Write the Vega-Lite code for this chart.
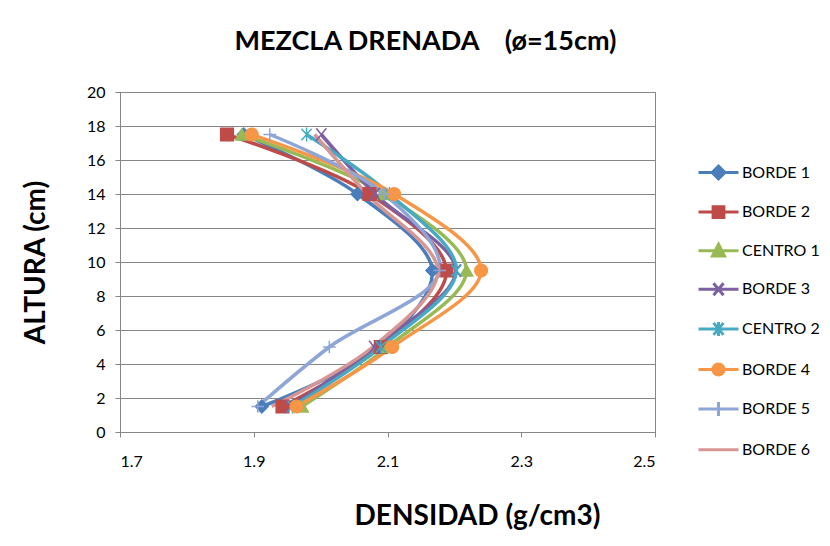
{
  "$schema": "https://vega.github.io/schema/vega-lite/v6.json",
  "width": 535,
  "height": 340,
  "autosize": {"type": "none"},
  "padding": {"left": 120, "top": 92, "right": 175, "bottom": 114},
  "background": "white",
  "title": {"text": "MEZCLA DRENADA\u00a0\u00a0\u00a0 (ø=15cm)", "font": "Lato", "fontSize": 27, "fontWeight": "bold", "color": "#000000", "anchor": "middle", "dx": 38, "offset": 28},
  "config": {
    "view": {"stroke": "#868686", "strokeWidth": 1},
    "axis": {"labelFont": "Lato", "labelFontSize": 16, "labelColor": "#000000", "titleFont": "Lato", "titleFontSize": 28, "titleFontWeight": "bold", "titleColor": "#000000", "domainColor": "#868686", "tickColor": "#868686", "gridColor": "#868686", "labelOverlap": false},
    "legend": {"labelFont": "Lato", "labelFontSize": 16, "labelColor": "#000000"}
  },
  "data": {"values": [
    {"series": "BORDE 1", "dens": 1.912, "alt": 1.5}, {"series": "BORDE 1", "dens": 2.088, "alt": 5}, {"series": "BORDE 1", "dens": 2.167, "alt": 9.5}, {"series": "BORDE 1", "dens": 2.055, "alt": 14}, {"series": "BORDE 1", "dens": 1.885, "alt": 17.5},
    {"series": "BORDE 2", "dens": 1.943, "alt": 1.5}, {"series": "BORDE 2", "dens": 2.09, "alt": 5}, {"series": "BORDE 2", "dens": 2.188, "alt": 9.5}, {"series": "BORDE 2", "dens": 2.073, "alt": 14}, {"series": "BORDE 2", "dens": 1.86, "alt": 17.5},
    {"series": "CENTRO 1", "dens": 1.972, "alt": 1.5}, {"series": "CENTRO 1", "dens": 2.1, "alt": 5}, {"series": "CENTRO 1", "dens": 2.218, "alt": 9.5}, {"series": "CENTRO 1", "dens": 2.095, "alt": 14}, {"series": "CENTRO 1", "dens": 1.882, "alt": 17.5},
    {"series": "BORDE 3", "dens": 1.955, "alt": 1.5}, {"series": "BORDE 3", "dens": 2.08, "alt": 5}, {"series": "BORDE 3", "dens": 2.202, "alt": 9.5}, {"series": "BORDE 3", "dens": 2.081, "alt": 14}, {"series": "BORDE 3", "dens": 2.001, "alt": 17.5},
    {"series": "CENTRO 2", "dens": 1.958, "alt": 1.5}, {"series": "CENTRO 2", "dens": 2.09, "alt": 5}, {"series": "CENTRO 2", "dens": 2.203, "alt": 9.5}, {"series": "CENTRO 2", "dens": 2.103, "alt": 14}, {"series": "CENTRO 2", "dens": 1.979, "alt": 17.5},
    {"series": "BORDE 4", "dens": 1.964, "alt": 1.5}, {"series": "BORDE 4", "dens": 2.107, "alt": 5}, {"series": "BORDE 4", "dens": 2.24, "alt": 9.5}, {"series": "BORDE 4", "dens": 2.11, "alt": 14}, {"series": "BORDE 4", "dens": 1.897, "alt": 17.5},
    {"series": "BORDE 5", "dens": 1.906, "alt": 1.5}, {"series": "BORDE 5", "dens": 2.013, "alt": 5}, {"series": "BORDE 5", "dens": 2.178, "alt": 9.5}, {"series": "BORDE 5", "dens": 2.095, "alt": 14}, {"series": "BORDE 5", "dens": 1.924, "alt": 17.5},
    {"series": "BORDE 6", "dens": 1.927, "alt": 1.5}, {"series": "BORDE 6", "dens": 2.078, "alt": 5}, {"series": "BORDE 6", "dens": 2.175, "alt": 9.5}, {"series": "BORDE 6", "dens": 2.069, "alt": 14}, {"series": "BORDE 6", "dens": 1.991, "alt": 17.5}
  ]},
  "layer": [
    {
      "mark": {"type": "line", "interpolate": "catmull-rom", "strokeWidth": 3.5},
      "encoding": {
        "x": {"field": "dens", "type": "quantitative", "scale": {"domain": [1.7, 2.5], "nice": false, "zero": false}, "axis": {"values": [1.7, 1.9, 2.1, 2.3, 2.5], "tickCount": 5, "format": ".1f", "grid": false, "title": "DENSIDAD (g/cm3)", "titleX": 357, "titleY": 92, "titleBaseline": "alphabetic", "tickSize": 5, "labelPadding": 16, "labelOverlap": false}},
        "y": {"field": "alt", "type": "quantitative", "scale": {"domain": [0, 20], "nice": false}, "axis": {"values": [0, 2, 4, 6, 8, 10, 12, 14, 16, 18, 20], "tickCount": 11, "format": "d", "grid": true, "title": "ALTURA (cm)", "titlePadding": 36, "tickSize": 5, "labelPadding": 10, "labelOverlap": false, "labelFlush": false, "labelBound": false}},
        "order": {"field": "alt", "type": "quantitative"},
        "color": {"field": "series", "type": "nominal",
          "scale": {"domain": ["BORDE 1", "BORDE 2", "CENTRO 1", "BORDE 3", "CENTRO 2", "BORDE 4", "BORDE 5", "BORDE 6"], "range": ["#4A7EBB", "#BE4B48", "#98B954", "#7D60A0", "#46AAC5", "#F79646", "#8EA5D8", "#D79693"]},
          "legend": {"title": null, "orient": "none", "legendX": 577, "legendY": 59, "symbolSize": 1600, "symbolStrokeWidth": 3, "rowPadding": 5.6, "labelOffset": 2,
            "encode": {"symbols": {"update": {
              "shape": {"signal": "({'BORDE 1':'M-1,0L1,0M0,-0.32L0.32,0L0,0.32L-0.32,0Z','BORDE 2':'M-1,0L1,0M-0.27,-0.27L0.27,-0.27L0.27,0.27L-0.27,0.27Z','CENTRO 1':'M-1,0L1,0M0,-0.32L0.3,0.26L-0.3,0.26Z','BORDE 3':'M-1,0L1,0M-0.25,-0.3L0.25,0.3M-0.25,0.3L0.25,-0.3','CENTRO 2':'M-1,0L1,0M0,-0.35L0,0.35M-0.25,-0.3L0.25,0.3M-0.25,0.3L0.25,-0.3','BORDE 4':'M-1,0L1,0M-0.28,0A0.28,0.28,0,1,0,0.28,0A0.28,0.28,0,1,0,-0.28,0Z','BORDE 5':'M-1,0L1,0M0,-0.35L0,0.35','BORDE 6':'M-1,0L1,0'})[datum.value]"},
              "fill": {"scale": "color", "field": "value"},
              "stroke": {"scale": "color", "field": "value"},
              "strokeWidth": {"value": 3},
              "opacity": {"value": 1}
            }}}
          }
        }
      }
    },
    {
      "transform": [{"filter": "datum.series != 'BORDE 6'"}],
      "mark": {"type": "point", "filled": true, "size": 160, "strokeWidth": 1.5, "opacity": 1},
      "encoding": {
        "x": {"field": "dens", "type": "quantitative"},
        "y": {"field": "alt", "type": "quantitative"},
        "color": {"field": "series", "type": "nominal"},
        "stroke": {"field": "series", "type": "nominal", "scale": {"domain": ["BORDE 1", "BORDE 2", "CENTRO 1", "BORDE 3", "CENTRO 2", "BORDE 4", "BORDE 5", "BORDE 6"], "range": ["#4A7EBB", "#BE4B48", "#98B954", "#7D60A0", "#46AAC5", "#F79646", "#8EA5D8", "#D79693"]}, "legend": null},
        "shape": {"field": "series", "type": "nominal", "scale": {"domain": ["BORDE 1", "BORDE 2", "CENTRO 1", "BORDE 3", "CENTRO 2", "BORDE 4", "BORDE 5"], "range": ["diamond", "square", "triangle-up", "M-0.8,-1L0.8,1M-0.8,1L0.8,-1", "M0,-1.1L0,1.1M-0.8,-0.9L0.8,0.9M-0.8,0.9L0.8,-0.9", "circle", "M-1,0L1,0M0,-1L0,1"]}, "legend": null}
      }
    }
  ]
}
